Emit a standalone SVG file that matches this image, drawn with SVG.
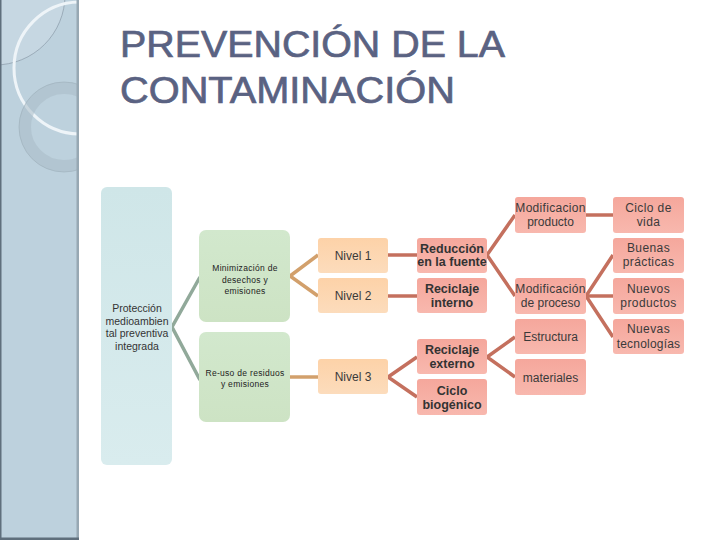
<svg xmlns="http://www.w3.org/2000/svg" width="720" height="540" viewBox="0 0 720 540">
<defs>
<linearGradient id="gBlue" x1="0" y1="0" x2="0" y2="1"><stop offset="0" stop-color="#cfe6e8"/><stop offset="1" stop-color="#d9ecee"/></linearGradient>
<linearGradient id="gGreen" x1="0" y1="0" x2="0" y2="1"><stop offset="0" stop-color="#d2e8cd"/><stop offset="1" stop-color="#cde3c4"/></linearGradient>
<linearGradient id="gPeach" x1="0" y1="0" x2="0" y2="1"><stop offset="0" stop-color="#fdd2a8"/><stop offset="1" stop-color="#fcdcbc"/></linearGradient>
<linearGradient id="gSalmon" x1="0" y1="0" x2="0" y2="1"><stop offset="0" stop-color="#f5a79c"/><stop offset="1" stop-color="#f8b8ae"/></linearGradient>
<clipPath id="side"><rect x="0" y="0" width="79" height="540"/></clipPath>
<style>
.t{font-family:"Liberation Sans",Arial,sans-serif;fill:#333;text-anchor:middle}
.s{font-size:12px;fill:#3a3a3a}
.b{font-size:12.5px;font-weight:bold}
.m{font-size:8.5px;letter-spacing:0.3px;fill:#222}
.c{fill:none;stroke-width:3.5;stroke-linecap:butt}
.cg{stroke:#91a99a}
.co{stroke:#d2a06c}
.cr{stroke:#c4705e}
</style>
</defs>
<rect x="0" y="0" width="720" height="540" fill="#ffffff"/>
<g id="sidebar">
<rect x="0" y="0" width="79" height="540" fill="#bdd1dd"/>
<g clip-path="url(#side)">
<circle cx="-5" cy="-5" r="70" fill="#ffffff" fill-opacity="0.15" stroke="#8a9aa8" stroke-width="0.7"/>
<circle cx="80" cy="68" r="66" fill="none" stroke="#eef4f8" stroke-width="3"/>
<circle cx="64" cy="127" r="39" fill="none" stroke="#a9bbc7" stroke-width="12" stroke-opacity="0.55"/>
<circle cx="64" cy="127" r="45" fill="none" stroke="#9aacb8" stroke-width="0.8" stroke-opacity="0.7"/>
</g>
<rect x="0" y="0" width="1.5" height="540" fill="#5f6f7c"/>
<rect x="76.5" y="0" width="2.5" height="540" fill="#97a8b3"/>
<rect x="0" y="537.5" width="79" height="2.5" fill="#5f6f7c"/>
</g>
<g id="title" font-family="'Liberation Sans',Arial,sans-serif" font-size="37" fill="#5a6282" stroke="#5a6282" stroke-width="0.7">
<text x="120" y="57" textLength="385" lengthAdjust="spacingAndGlyphs">PREVENCIÓN DE LA</text>
<text x="120" y="103" textLength="335" lengthAdjust="spacingAndGlyphs">CONTAMINACIÓN</text>
</g>
<g id="connectors">
<polyline class="c cg" points="200,277 172,327 200,380"/>
<polyline class="c co" points="318,255 290,276 318,296"/>
<line class="c co" x1="290" y1="377" x2="318" y2="377"/>
<line class="c cr" x1="388" y1="255" x2="417" y2="255"/>
<line class="c cr" x1="388" y1="296" x2="417" y2="296"/>
<polyline class="c cr" points="417,357 388,377 417,397"/>
<polyline class="c cr" points="515,215 487,255 515,296"/>
<polyline class="c cr" points="515,337 487,357 515,377"/>
<line class="c cr" x1="586" y1="215" x2="613" y2="215"/>
<polyline class="c cr" points="613,255 586,296 613,337"/>
<line class="c cr" x1="586" y1="296" x2="613" y2="296"/>
</g>
<g id="n-proteccion">
<rect x="101" y="187" width="71" height="278" rx="6" fill="url(#gBlue)"/>
<text class="t" font-size="10.5" x="137" y="312">Protección</text>
<text class="t" font-size="10.5" x="137" y="325">medioambien</text>
<text class="t" font-size="10.5" x="137" y="337">tal preventiva</text>
<text class="t" font-size="10.5" x="137" y="350">integrada</text>
</g>
<g id="n-minimizacion">
<rect x="199" y="230" width="91" height="92" rx="7" fill="url(#gGreen)"/>
<text class="t m" x="245" y="271">Minimización de</text>
<text class="t m" x="245" y="283">desechos y</text>
<text class="t m" x="245" y="294">emisiones</text>
</g>
<g id="n-reuso">
<rect x="199" y="332" width="91" height="90" rx="7" fill="url(#gGreen)"/>
<text class="t m" x="245" y="376">Re-uso de residuos</text>
<text class="t m" x="245" y="387">y emisiones</text>
</g>
<g id="n-nivel1"><rect x="318" y="238" width="70" height="35" rx="3" fill="url(#gPeach)"/><text class="t s" x="353" y="260">Nivel 1</text></g>
<g id="n-nivel2"><rect x="318" y="278" width="70" height="35" rx="3" fill="url(#gPeach)"/><text class="t s" x="353" y="300">Nivel 2</text></g>
<g id="n-nivel3"><rect x="318" y="359" width="70" height="35" rx="3" fill="url(#gPeach)"/><text class="t s" x="353" y="381">Nivel 3</text></g>
<g id="n-reduccion"><rect x="417" y="238" width="70" height="35" rx="3" fill="url(#gSalmon)"/><text class="t b" x="452" y="253">Reducción</text><text class="t b" x="452" y="266">en la fuente</text></g>
<g id="n-rec-interno"><rect x="417" y="278" width="70" height="35" rx="3" fill="url(#gSalmon)"/><text class="t b" x="452" y="293">Reciclaje</text><text class="t b" x="452" y="307">interno</text></g>
<g id="n-rec-externo"><rect x="417" y="339" width="70" height="35" rx="3" fill="url(#gSalmon)"/><text class="t b" x="452" y="354">Reciclaje</text><text class="t b" x="452" y="368">externo</text></g>
<g id="n-ciclo-bio"><rect x="417" y="379" width="70" height="36" rx="3" fill="url(#gSalmon)"/><text class="t b" x="452" y="395">Ciclo</text><text class="t b" x="452" y="409">biogénico</text></g>
<g id="n-mod-producto"><rect x="515" y="197" width="71" height="36" rx="3" fill="url(#gSalmon)"/><text class="t s" x="550.5" y="212" letter-spacing="0.3">Modificacion</text><text class="t s" x="550.5" y="226">producto</text></g>
<g id="n-mod-proceso"><rect x="515" y="278" width="71" height="36" rx="3" fill="url(#gSalmon)"/><text class="t s" x="550.5" y="293" letter-spacing="0.3">Modificación</text><text class="t s" x="550.5" y="307">de proceso</text></g>
<g id="n-estructura"><rect x="515" y="319" width="71" height="35" rx="3" fill="url(#gSalmon)"/><text class="t s" x="550.5" y="341">Estructura</text></g>
<g id="n-materiales"><rect x="515" y="359" width="71" height="36" rx="3" fill="url(#gSalmon)"/><text class="t s" x="550.5" y="382">materiales</text></g>
<g id="n-ciclo-vida"><rect x="613" y="197" width="71" height="36" rx="3" fill="url(#gSalmon)"/><text class="t s" x="648.5" y="212" letter-spacing="0.4">Ciclo de</text><text class="t s" x="648.5" y="226" letter-spacing="0.4">vida</text></g>
<g id="n-buenas"><rect x="613" y="238" width="71" height="35" rx="3" fill="url(#gSalmon)"/><text class="t s" x="648.5" y="252" letter-spacing="0.4">Buenas</text><text class="t s" x="648.5" y="266" letter-spacing="0.4">prácticas</text></g>
<g id="n-nuevos-prod"><rect x="613" y="278" width="71" height="36" rx="3" fill="url(#gSalmon)"/><text class="t s" x="648.5" y="293" letter-spacing="0.4">Nuevos</text><text class="t s" x="648.5" y="307" letter-spacing="0.4">productos</text></g>
<g id="n-nuevas-tec"><rect x="613" y="319" width="71" height="35" rx="3" fill="url(#gSalmon)"/><text class="t s" x="648.5" y="333" letter-spacing="0.4">Nuevas</text><text class="t s" x="648.5" y="348" letter-spacing="0.2">tecnologías</text></g>
</svg>
